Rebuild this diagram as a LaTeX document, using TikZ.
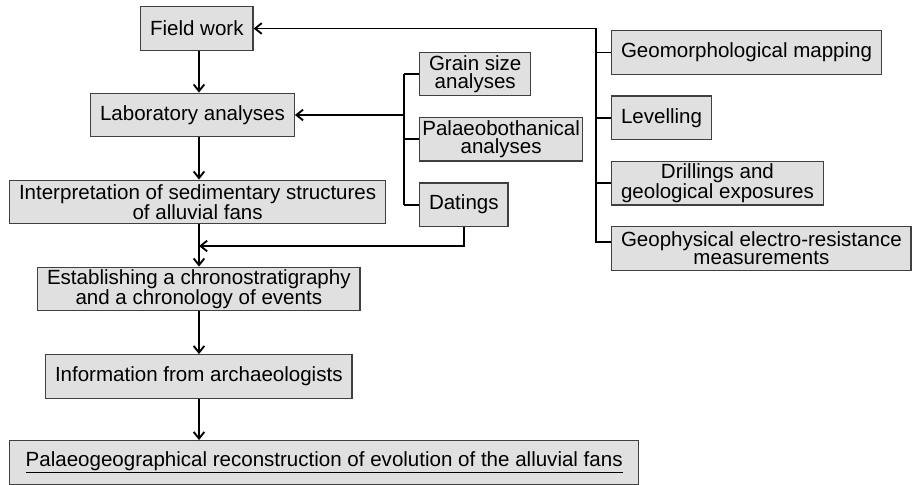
\documentclass[tikz,border=0pt]{standalone}
\usepackage{fontspec}
\setmainfont{Liberation Sans}
\usetikzlibrary{positioning,arrows.meta}

\begin{document}
\begin{tikzpicture}[x=0.75pt, y=-0.75pt, >={Straight Barb[length=5pt, width=8pt]},
    font=\fontsize{15.4}{13.4}\selectfont,
    box/.style={draw=black!75, line width=1pt, fill=black!12, align=center, anchor=west,
                minimum height=32.6pt, inner xsep=7pt, inner ysep=1pt},
    arr/.style={->, line width=1.4pt},
    link/.style={line width=1.4pt}]
    \useasboundingbox (0,0) rectangle (914,485);
    % main column
    \node[box] (field) at (140,28.5) {Field work};
    \node[box] (lab) at (90,115) {Laboratory analyses};
    \node[box] (interp) at (9,202) {Interpretation of sedimentary structures\\of alluvial fans};
    \node[box] (chrono) at (37,289) {Establishing a chronostratigraphy\\and a chronology of events};
    \node[box] (archaeo) at (45,376.5) {Information from archaeologists};
    \node[box, minimum width=471.75pt] (recon) at (9,462.5)
        {\underline{Palaeogeographical reconstruction of evolution of the alluvial fans}};
    % laboratory inputs
    \node[box] (grain) at (419,74) {Grain size\\analyses};
    \node[box, below=15.4pt of grain.south west, anchor=north west, inner xsep=2pt] (palaeobot) {Palaeobothanical\\analyses};
    \node[box, below=15.4pt of palaeobot.south west, anchor=north west] (datings) {Datings};
    % field work inputs
    \node[box] (geomorph) at (611,52.5) {Geomorphological mapping};
    \node[box, below=15.4pt of geomorph.south west, anchor=north west] (levelling) {Levelling};
    \node[box, below=15.4pt of levelling.south west, anchor=north west] (drillings) {Drillings and\\geological exposures};
    \node[box, below=15.4pt of drillings.south west, anchor=north west] (geophys) {Geophysical electro-resistance\\measurements};
    \coordinate (spine) at (199,0);
    \coordinate (labbus) at (404,0);
    \coordinate (fieldbus) at (596,0);
    \coordinate (merge) at (199,246);
    \draw[arr] (field.south -| spine) -- (lab.north -| spine);
    \draw[arr] (lab.south -| spine) -- (interp.north -| spine);
    \draw[arr] (interp.south -| spine) -- (chrono.north -| spine);
    \draw[arr] (chrono.south -| spine) -- (archaeo.north -| spine);
    \draw[arr] (archaeo.south -| spine) -- (recon.north -| spine);
    % field work bus
    \draw[link] (field.east -| fieldbus) |- ([yshift=5pt]geophys.west);
    \foreach \n in {geomorph, levelling, drillings}
        \draw[link] (\n.west -| fieldbus) -- (\n.west);
    \draw[arr] (field.east -| fieldbus) -- (field.east);
    % laboratory bus
    \draw[link] (grain.west -| labbus) -- (datings.west -| labbus);
    \foreach \n in {grain, palaeobot, datings}
        \draw[link] (\n.west -| labbus) -- (\n.west);
    \draw[arr] (lab.east -| labbus) -- (lab.east);
    \draw[arr] (datings.south) |- (merge);
\end{tikzpicture}
\end{document}
